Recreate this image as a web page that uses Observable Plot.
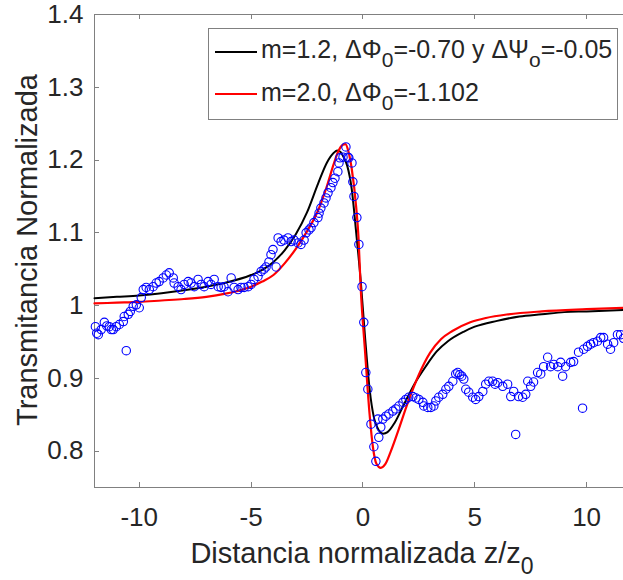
<!DOCTYPE html>
<html><head><meta charset="utf-8">
<script src="https://cdn.jsdelivr.net/npm/d3@7"></script>
<script src="https://cdn.jsdelivr.net/npm/@observablehq/plot@0.6"></script>
<style>html,body{margin:0;padding:0;background:#fff;overflow:hidden}</style>
</head><body><div id="chart"></div>
<script>
// ---- data ----
const xDomain = [-12, 11.65];
const yDomain = [0.75, 1.4];
const xTicks = [-10, -5, 0, 5, 10];
const yTicks = [0.8, 0.9, 1, 1.1, 1.2, 1.3, 1.4];

const dataZ = [-11.96,-11.90,-11.83,-11.70,-11.56,-11.45,-11.34,-11.25,-11.16,-11.03,-10.89,-10.71,-10.67,-10.58,-10.49,-10.40,-10.27,-10.13,-10.00,-9.91,-9.82,-9.69,-9.55,-9.38,-9.24,-9.11,-8.93,-8.79,-8.66,-8.48,-8.44,-8.26,-8.13,-7.99,-7.81,-7.68,-7.54,-7.37,-7.23,-7.10,-6.92,-6.79,-6.65,-6.47,-6.34,-6.21,-6.03,-5.89,-5.76,-5.58,-5.45,-5.31,-5.13,-5.00,-4.87,-4.69,-4.55,-4.42,-4.33,-4.20,-4.11,-4.02,-3.88,-3.79,-3.66,-3.53,-3.35,-3.21,-3.08,-2.90,-2.77,-2.63,-2.54,-2.41,-2.32,-2.19,-2.01,-1.96,-1.88,-1.74,-1.65,-1.56,-1.43,-1.34,-1.25,-1.12,-1.07,-1.03,-0.89,-0.76,-0.67,-0.63,-0.49,-0.45,-0.40,-0.27,-0.18,-0.04,0.04,0.13,0.22,0.36,0.49,0.58,0.71,0.67,0.80,0.89,1.03,1.16,1.34,1.47,1.61,1.79,1.92,2.05,2.23,2.37,2.50,2.68,2.72,2.90,3.04,3.17,3.26,3.39,3.57,3.71,3.84,4.02,4.15,4.24,4.33,4.42,4.51,4.60,4.73,4.91,5.04,5.18,5.36,5.49,5.63,5.80,5.91,6.03,6.25,6.47,6.61,6.74,6.83,6.96,7.14,7.28,7.37,7.50,7.63,7.81,7.95,8.08,8.26,8.39,8.53,8.71,8.84,8.93,9.06,9.29,9.42,9.64,9.82,9.87,10.04,10.18,10.31,10.49,10.63,10.76,10.94,11.07,11.21,11.38,11.52,11.65];
const dataT = [0.971,0.962,0.960,0.967,0.977,0.972,0.971,0.967,0.967,0.971,0.974,0.978,0.985,0.938,0.988,0.992,0.999,1.001,0.997,1.011,1.022,1.025,1.022,1.026,1.031,1.033,1.038,1.042,1.045,1.038,1.031,1.026,1.022,1.029,1.033,1.031,1.026,1.036,1.029,1.026,1.033,1.029,1.036,1.026,1.025,1.026,1.019,1.038,1.025,1.022,1.025,1.025,1.026,1.029,1.036,1.040,1.047,1.050,1.053,1.060,1.070,1.077,1.053,1.093,1.088,1.090,1.093,1.088,1.090,1.086,1.084,1.090,1.100,1.104,1.107,1.114,1.121,1.127,1.134,1.141,1.148,1.155,1.162,1.169,1.175,1.184,1.196,1.203,1.204,1.218,1.204,1.203,1.196,1.170,1.150,1.121,1.084,1.026,0.977,0.908,0.885,0.837,0.806,0.786,0.819,0.844,0.833,0.844,0.848,0.851,0.855,0.858,0.862,0.867,0.871,0.874,0.875,0.873,0.871,0.867,0.862,0.860,0.860,0.862,0.869,0.874,0.878,0.885,0.889,0.896,0.906,0.908,0.905,0.903,0.899,0.885,0.881,0.874,0.871,0.875,0.882,0.892,0.896,0.896,0.892,0.894,0.889,0.892,0.875,0.882,0.823,0.875,0.874,0.878,0.896,0.889,0.895,0.908,0.906,0.916,0.929,0.916,0.919,0.916,0.922,0.903,0.916,0.922,0.923,0.936,0.859,0.940,0.944,0.947,0.949,0.951,0.956,0.956,0.947,0.940,0.949,0.960,0.960,0.955];

const fitBlackZ = [-12,-11,-10,-9,-8,-7,-6.2,-5,-4.5,-4,-3.5,-3,-2.5,-2,-1.6,-1.3,-1.15,-1.0,-0.85,-0.7,-0.5,-0.3,-0.1,0.1,0.3,0.5,0.7,0.9,1.1,1.4,1.8,2.3,2.8,3.3,3.8,4.5,5,6,7,8,9,10,11.65];
const fitBlackT = [1.010,1.012,1.014,1.017,1.021,1.026,1.031,1.042,1.049,1.060,1.076,1.098,1.128,1.168,1.197,1.210,1.213,1.211,1.203,1.192,1.160,1.100,1.035,0.955,0.885,0.845,0.829,0.824,0.826,0.838,0.862,0.892,0.916,0.937,0.951,0.964,0.971,0.979,0.985,0.988,0.991,0.992,0.994];

const fitRedZ = [-12,-11,-10,-9,-8,-7,-6.2,-5,-4.5,-4,-3.5,-3,-2.5,-2,-1.6,-1.3,-1.1,-0.9,-0.78,-0.65,-0.5,-0.3,-0.2,-0.1,0.1,0.3,0.45,0.6,0.8,1.0,1.25,1.6,2.0,2.5,3.0,3.5,4.0,4.8,5.5,6.5,8,10,11.65];
const fitRedT = [1.003,1.004,1.005,1.007,1.009,1.012,1.016,1.026,1.033,1.042,1.058,1.078,1.102,1.131,1.165,1.195,1.212,1.221,1.222,1.212,1.188,1.135,1.095,1.025,0.935,0.850,0.805,0.783,0.777,0.782,0.800,0.830,0.866,0.905,0.935,0.954,0.965,0.977,0.983,0.988,0.992,0.995,0.997];

const legendLabels = [
  [["m=1.2, ΔΦ"],["0",1],["=-0.70 y ΔΨ"],["o",1],["=-0.05"]],
  [["m=2.0, ΔΦ"],["0",1],["=-1.102"]]
];
const legendColors = ["#000000", "#ff0000"];
const xLabel = [["Distancia normalizada z/z"],["0",1]];
const yLabel = "Transmitancia Normalizada";

// ---- build ----
const FONT = "'Liberation Sans', Arial, Helvetica, sans-serif";
const axisColor = "#808080";
const textColor = "#262626";

const points = dataZ.map((z, i) => ({z, t: dataT[i]}));
const black = fitBlackZ.map((z, i) => ({z, t: fitBlackT[i]}));
const red = fitRedZ.map((z, i) => ({z, t: fitRedT[i]}));

const chart = Plot.plot({
  width: 623, height: 580,
  marginLeft: 94, marginRight: 0, marginTop: 14, marginBottom: 93,
  style: {fontFamily: FONT, background: "white", color: textColor, overflow: "hidden"},
  x: {domain: xDomain},
  y: {domain: yDomain},
  marks: [
    Plot.ruleY(yDomain, {stroke: axisColor, strokeWidth: 1}),
    Plot.ruleX([xDomain[0]], {stroke: axisColor, strokeWidth: 1}),
    Plot.axisX({ticks: xTicks, anchor: "bottom", tickSize: 0, tickPadding: 20, fontSize: 26, tickFormat: d => String(d), label: null, fill: textColor}),
    Plot.axisY({ticks: yTicks, anchor: "left", tickSize: 0, tickPadding: 11, fontSize: 26, tickFormat: d => String(d), label: null, fill: textColor}),
    Plot.line(black, {x: "z", y: "t", stroke: "#000000", strokeWidth: 2, curve: "monotone-x"}),
    Plot.line(red, {x: "z", y: "t", stroke: "#ff0000", strokeWidth: 2.2, curve: "monotone-x"}),
    Plot.dot(points, {x: "z", y: "t", r: 4.2, stroke: "#0000ff", strokeWidth: 1.1, fill: "none"})
  ]
});
document.getElementById("chart").appendChild(chart);

const svg = d3.select(chart);
const sx = chart.scale("x"), sy = chart.scale("y");
const x0 = sx.apply(xDomain[0]), yTop = sy.apply(yDomain[1]), yBot = sy.apply(yDomain[0]);

// inward ticks (MATLAB style)
const tk = svg.append("g").attr("stroke", axisColor).attr("stroke-width", 1);
xTicks.forEach(v => {
  const px = Math.round(sx.apply(v)) + 0.5;
  tk.append("line").attr("x1", px).attr("x2", px).attr("y1", yBot).attr("y2", yBot - 5);
  tk.append("line").attr("x1", px).attr("x2", px).attr("y1", yTop).attr("y2", yTop + 5);
});
yTicks.forEach(v => {
  const py = Math.round(sy.apply(v)) + 0.5;
  tk.append("line").attr("x1", x0).attr("x2", x0 + 5).attr("y1", py).attr("y2", py);
});

function rich(textSel, parts, subSize, subDy) {
  let lowered = false;
  parts.forEach(([s, sub]) => {
    const ts = textSel.append("tspan").text(s);
    if (sub && !lowered) { ts.attr("dy", subDy).attr("font-size", subSize); lowered = true; }
    else if (!sub && lowered) { ts.attr("dy", -subDy); lowered = false; }
  });
}

// legend
const lg = svg.append("g").attr("font-family", FONT).attr("text-anchor", "start");
lg.append("rect").attr("x", 208.5).attr("y", 28.5).attr("width", 409).attr("height", 91)
  .attr("fill", "white").attr("stroke", axisColor).attr("stroke-width", 1);
legendLabels.forEach((parts, i) => {
  const yLine = 52 + i * 42;
  lg.append("line").attr("x1", 215).attr("x2", 257).attr("y1", yLine).attr("y2", yLine)
    .attr("stroke", legendColors[i]).attr("stroke-width", 2.2);
  const t = lg.append("text").attr("x", 261).attr("y", 58 + i * 43)
    .attr("text-anchor", "start").attr("font-size", 25).attr("fill", textColor);
  rich(t, parts, 21, 9);
});

// axis labels
const xl = svg.append("text").attr("x", 362).attr("y", 563).attr("text-anchor", "middle")
  .attr("font-family", FONT).attr("font-size", 29).attr("fill", textColor);
rich(xl, xLabel, 23, 11);
svg.append("text").attr("transform", "translate(37,250) rotate(-90)").attr("text-anchor", "middle")
  .attr("font-family", FONT).attr("font-size", 29).attr("fill", textColor).text(yLabel);
</script>
</body></html>
